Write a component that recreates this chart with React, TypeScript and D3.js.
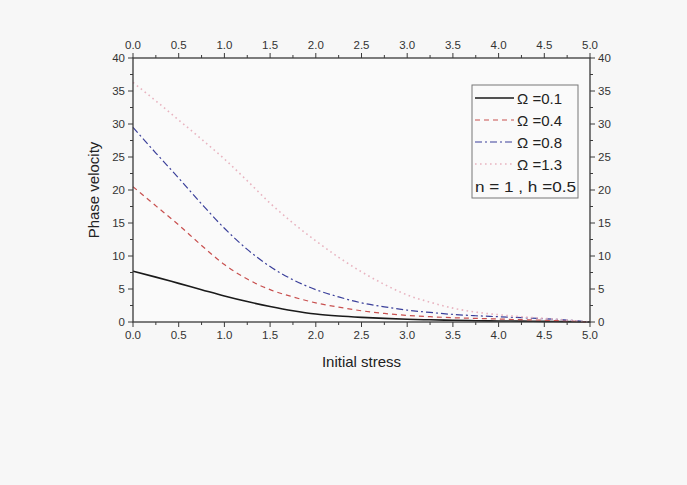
import React from "react";
import * as d3 from "d3";

const stress = [0, 0.25, 0.5, 0.75, 1.0, 1.25, 1.5, 1.75, 2.0, 2.25, 2.5, 2.75, 3.0, 3.25, 3.5, 3.75, 4.0, 4.25, 4.5, 4.75, 5.0];
const omega01 = [7.7, 6.8, 5.85, 4.9, 3.95, 3.1, 2.35, 1.7, 1.2, 0.9, 0.7, 0.55, 0.42, 0.33, 0.26, 0.2, 0.16, 0.13, 0.1, 0.06, 0.0];
const omega04 = [20.5, 17.6, 14.7, 11.6, 8.7, 6.5, 4.9, 3.8, 2.9, 2.25, 1.7, 1.3, 1.0, 0.8, 0.65, 0.55, 0.45, 0.35, 0.27, 0.15, 0.0];
const omega08 = [29.5, 25.6, 21.8, 17.9, 14.2, 11.0, 8.4, 6.4, 4.9, 3.8, 2.9, 2.3, 1.8, 1.45, 1.15, 0.95, 0.8, 0.65, 0.5, 0.3, 0.0];
const omega13 = [36.3, 33.5, 30.6, 27.7, 24.7, 21.4, 18.0, 15.0, 12.3, 9.8, 7.6, 5.7, 4.1, 3.0, 2.1, 1.5, 1.1, 0.8, 0.55, 0.3, 0.0];

const seriesNames = ["Ω =0.1", "Ω =0.4", "Ω =0.8", "Ω =1.3"];
const seriesValues = [omega01, omega04, omega08, omega13];
const seriesColors = ["#1a1a1a", "#c8504f", "#3a3f9a", "#e8b4c0"];
const seriesDash = ["", "5,4", "7,3,2,3", "1.6,3.4"];
const seriesWidth = [1.6, 1.2, 1.2, 1.6];
const noteText = "n = 1 , h =0.5";

const xTicks = [0, 0.5, 1, 1.5, 2, 2.5, 3, 3.5, 4, 4.5, 5];
const xMinor = [0.25, 0.75, 1.25, 1.75, 2.25, 2.75, 3.25, 3.75, 4.25, 4.75];
const yTicks = [0, 5, 10, 15, 20, 25, 30, 35, 40];
const yMinor = [2.5, 7.5, 12.5, 17.5, 22.5, 27.5, 32.5, 37.5];

const W = 687, H = 485;
const L = 133, R = 590, T = 58, B = 322;

export default function App() {
  const x = d3.scaleLinear().domain([0, 5]).range([L, R]);
  const y = d3.scaleLinear().domain([0, 40]).range([B, T]);
  const line = d3
    .line<number>()
    .x((_, i) => x(stress[i]))
    .y((d) => y(d))
    .curve(d3.curveMonotoneX);
  const font = "'Liberation Sans', Arial, sans-serif";
  const axisColor = "#3a3a3a";
  const major = 5, minor = 3;

  const legX = 472, legY = 85, legW = 106, legH = 113, rowH = 22;

  return (
    <div style={{ position: "fixed", left: 0, top: 0 }}>
      <svg width={W} height={H} style={{ display: "block" }} fontFamily={font}>
        <rect x={0} y={0} width={W} height={H} fill="#f7f7f7" />
        <rect x={L} y={T} width={R - L} height={B - T} fill="#fafafa" />
        {seriesValues.map((vals, i) => (
          <path
            key={i}
            d={line(vals) || ""}
            fill="none"
            stroke={seriesColors[i]}
            strokeWidth={seriesWidth[i]}
            strokeDasharray={seriesDash[i]}
          />
        ))}
        <rect x={L} y={T} width={R - L} height={B - T} fill="none" stroke={axisColor} strokeWidth={1.3} />
        {xTicks.map((t) => (
          <g key={"x" + t}>
            <line x1={x(t)} x2={x(t)} y1={B} y2={B + major} stroke={axisColor} />
            <line x1={x(t)} x2={x(t)} y1={T} y2={T - major} stroke={axisColor} />
            <text x={x(t)} y={B + 17} fontSize={11.5} textAnchor="middle" fill="#333">{t.toFixed(1)}</text>
            <text x={x(t)} y={T - 9} fontSize={11.5} textAnchor="middle" fill="#333">{t.toFixed(1)}</text>
          </g>
        ))}
        {xMinor.map((t) => (
          <g key={"xm" + t}>
            <line x1={x(t)} x2={x(t)} y1={B} y2={B + minor} stroke={axisColor} />
            <line x1={x(t)} x2={x(t)} y1={T} y2={T - minor} stroke={axisColor} />
          </g>
        ))}
        {yTicks.map((t) => (
          <g key={"y" + t}>
            <line x1={L} x2={L - major} y1={y(t)} y2={y(t)} stroke={axisColor} />
            <line x1={R} x2={R + major} y1={y(t)} y2={y(t)} stroke={axisColor} />
            <text x={L - 8} y={y(t) + 4} fontSize={11.5} textAnchor="end" fill="#333">{t}</text>
            <text x={R + 8} y={y(t) + 4} fontSize={11.5} textAnchor="start" fill="#333">{t}</text>
          </g>
        ))}
        {yMinor.map((t) => (
          <g key={"ym" + t}>
            <line x1={L} x2={L - minor} y1={y(t)} y2={y(t)} stroke={axisColor} />
            <line x1={R} x2={R + minor} y1={y(t)} y2={y(t)} stroke={axisColor} />
          </g>
        ))}
        <text x={(L + R) / 2} y={B + 45} fontSize={15} textAnchor="middle" fill="#222">Initial stress</text>
        <text
          transform={`translate(${L - 34},${(T + B) / 2}) rotate(-90)`}
          fontSize={15}
          textAnchor="middle"
          fill="#222"
        >
          Phase velocity
        </text>
        <rect x={legX} y={legY} width={legW} height={legH} fill="#fafafa" stroke="#777" strokeWidth={1} />
        {seriesNames.map((name, i) => (
          <g key={name}>
            <line
              x1={legX + 3}
              x2={legX + 42}
              y1={legY + 13 + i * rowH}
              y2={legY + 13 + i * rowH}
              stroke={seriesColors[i]}
              strokeWidth={seriesWidth[i]}
              strokeDasharray={seriesDash[i]}
            />
            <text x={legX + 45} y={legY + 19 + i * rowH} fontSize={15} fill="#222">{name}</text>
          </g>
        ))}
        <text x={legX + 3} y={legY + 19 + 4 * rowH} fontSize={15} fill="#222" textLength={legW - 5} lengthAdjust="spacingAndGlyphs">{noteText}</text>
      </svg>
    </div>
  );
}
